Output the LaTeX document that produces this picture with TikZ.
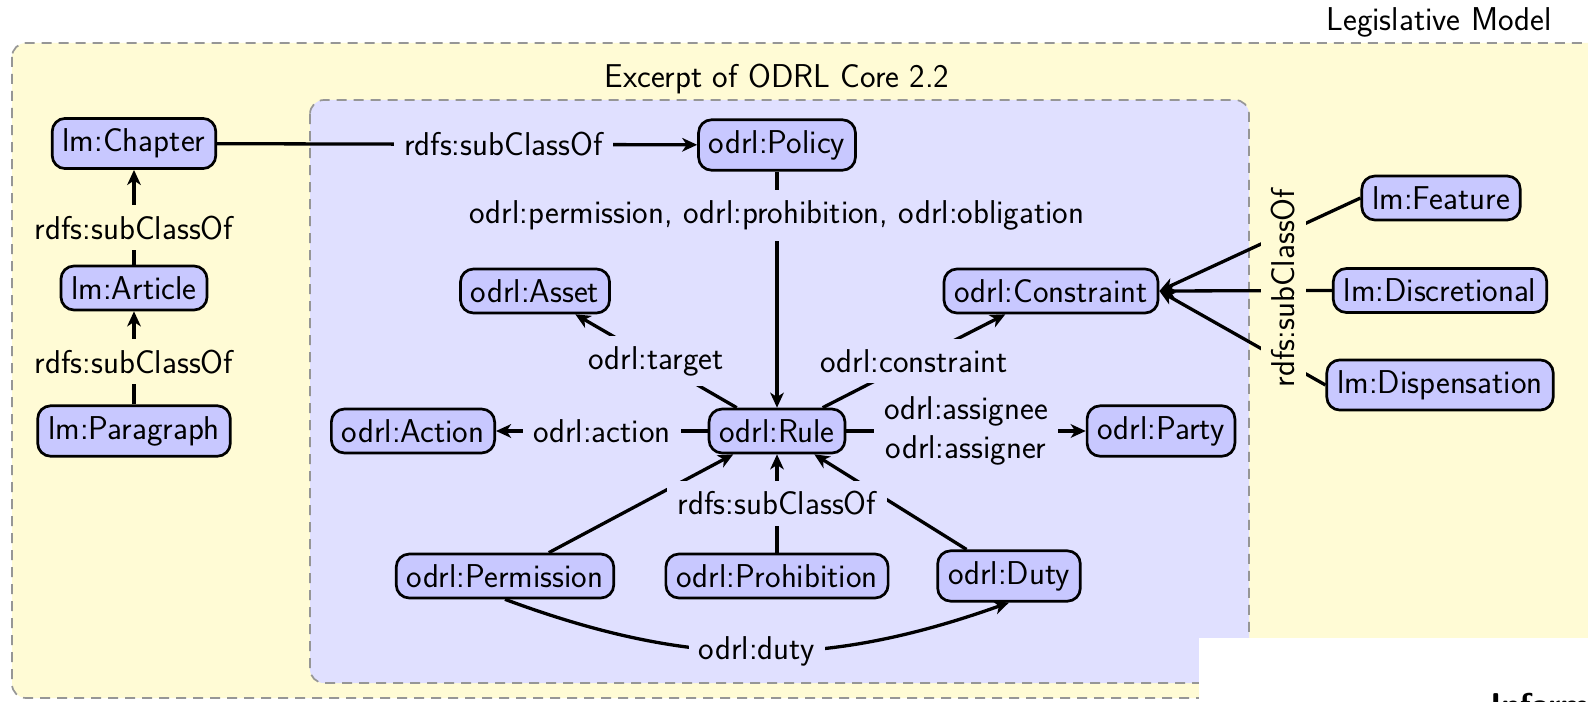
\documentclass[tikz,border=0pt]{standalone}
\usetikzlibrary{arrows.meta}
\definecolor{nodefill}{RGB}{200,200,255}
\definecolor{bluebg}{RGB}{224,224,255}
\definecolor{yellowbg}{RGB}{255,251,213}
\definecolor{dashgray}{RGB}{150,150,150}
\newcommand\dfont{\fontsize{16.5}{19.8}\selectfont\sffamily}
\tikzset{
  cls/.style={draw, fill=nodefill, rounded corners=6.5pt, line width=1.35pt, inner sep=5.2pt},
  lbl/.style={inner sep=5.2pt},
  rel/.style={line width=1.65pt, -{Stealth[length=7.5pt,width=6.8pt,inset=2.2pt]}},
  area/.style={draw=dashgray, line width=0.85pt, dash pattern=on 5pt off 3.5pt, rounded corners=7pt},
}
\begin{document}
\begin{tikzpicture}[x=0.5pt,y=-0.5pt,font=\dfont]
\useasboundingbox (0,0) rectangle (1588,701);
\begin{scope}
\clip (0,0) rectangle (1588,701);
\draw[area, fill=yellowbg] (12,43) rectangle (1620,698);
\draw[area, fill=bluebg] (310,100) rectangle (1249,683);
\fill[white] (1199,638) rectangle (1620,720);
\node[anchor=base west, inner sep=0, font=\dfont\bfseries] (info) at (1490,716) {Information};
\end{scope}
\node[anchor=base east, inner sep=0] (lmtitle) at (1552,31) {Legislative Model};
\node[anchor=base, inner sep=0] (odrltitle) at (777,88) {Excerpt of ODRL Core 2.2};

% classes
\node[cls] (chapter) at (134,143.5) {lm:Chapter};
\node[cls] (article) at (134,288) {lm:Article};
\node[cls] (paragraph) at (134,431) {lm:Paragraph};
\node[cls] (policy) at (777,145) {odrl:Policy};
\node[cls] (asset) at (535,291) {odrl:Asset};
\node[cls] (constraint) at (1051,291) {odrl:Constraint};
\node[cls] (action) at (413,431) {odrl:Action};
\node[cls] (rule) at (777,431) {odrl:Rule};
\node[cls] (party) at (1161,431) {odrl:Party};
\node[cls] (permission) at (505,576) {odrl:Permission};
\node[cls] (prohibition) at (777,576) {odrl:Prohibition};
\node[cls] (duty) at (1009,576) {odrl:Duty};
\node[cls] (feature) at (1441,198) {lm:Feature};
\node[cls] (discretional) at (1440,290.5) {lm:Discretional};
\node[cls] (dispensation) at (1440,385) {lm:Dispensation};

% relations
\draw[rel] (article) -- node[lbl, fill=yellowbg, pos=0.39] (l1) {rdfs:subClassOf} (chapter);
\draw[rel] (paragraph) -- node[lbl, fill=yellowbg, pos=0.46] (l2) {rdfs:subClassOf} (article);
\draw[rel] (chapter) -- node[lbl, fill=bluebg, pos=0.596] (l3) {rdfs:subClassOf} (policy);
\draw[rel] (policy) -- node[lbl, fill=bluebg, pos=0.187] (l4) {odrl:permission, odrl:prohibition, odrl:obligation} (rule);
\draw[rel] (rule) -- node[lbl, fill=bluebg] (l5) {odrl:target} (asset);
\draw[rel] (rule) -- node[lbl, fill=bluebg] (l6) {odrl:constraint} (constraint);
\draw[rel] (rule) -- node[lbl, fill=bluebg] (l7) {odrl:action} (action);
\draw[rel] (rule) -- node[lbl, fill=bluebg, align=center] (l8) {odrl:assignee\\odrl:assigner} (party);
\draw[rel] (permission) -- (rule);
\draw[rel] (duty) -- (rule);
\draw[rel] (prohibition) -- node[lbl, fill=bluebg] (l9) {rdfs:subClassOf} (rule);
\draw[rel] (permission.south) to[bend right=20] node[lbl, fill=bluebg] (l10) {odrl:duty} (duty.south);
\draw[rel] (feature.west) -- (constraint.east);
\draw[rel] (discretional.west) -- (constraint.east);
\draw[rel] (dispensation.west) -- (constraint.east);
\node[lbl, fill=yellowbg, rotate=90] (l11) at (1283.5,288) {rdfs:subClassOf};
\end{tikzpicture}
\end{document}
